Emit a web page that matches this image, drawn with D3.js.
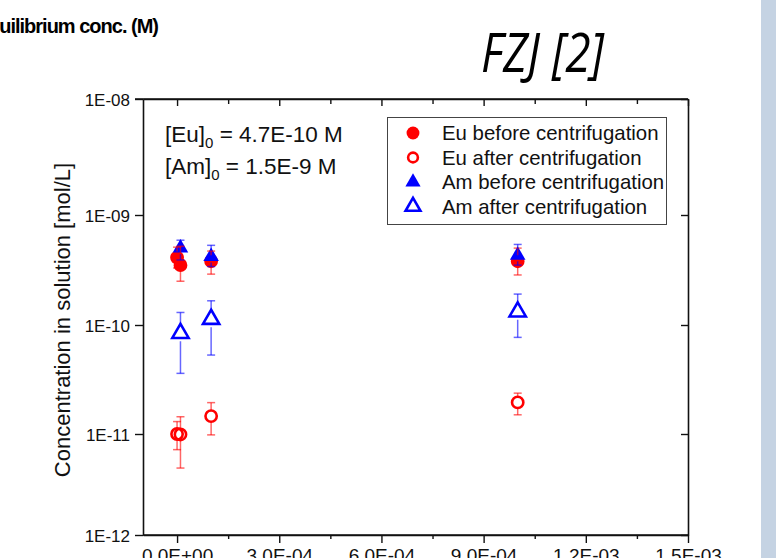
<!DOCTYPE html>
<html>
<head>
<meta charset="utf-8">
<script src="https://cdn.jsdelivr.net/npm/d3@7"></script>
<style>
  body { margin: 0; background: #fff; }
  svg { display: block; font-family: "Liberation Sans", Arial, sans-serif; }
</style>
</head>
<body>
<svg id="chart" width="776" height="558"></svg>
<script>
// Series values (x: time-like axis, y: mol/L)
const euBeforeX = [0, 1e-5, 1e-4, 1e-3];
const euBeforeY = [4.1e-10, 3.5e-10, 3.8e-10, 3.8e-10];
const euBeforeLo = [3.3e-10, 2.5e-10, 2.9e-10, 2.85e-10];
const euBeforeHi = [5.1e-10, 5.2e-10, 4.7e-10, 5.0e-10];

const euAfterX = [0, 1e-5, 1e-4, 1e-3];
const euAfterY = [1.0e-11, 9.9e-12, 1.46e-11, 1.95e-11];
const euAfterLo = [7e-12, 4.6e-12, 9.8e-12, 1.5e-11];
const euAfterHi = [1.3e-11, 1.44e-11, 1.94e-11, 2.37e-11];

const amBeforeX = [1e-5, 1e-4, 1e-3];
const amBeforeY = [5.0e-10, 4.2e-10, 4.3e-10];
const amBeforeLo = [3.9e-10, 3.4e-10, 3.5e-10];
const amBeforeHi = [5.9e-10, 5.3e-10, 5.4e-10];

const amAfterX = [1e-5, 1e-4, 1e-3];
const amAfterY = [8.4e-11, 1.13e-10, 1.32e-10];
const amAfterLo = [3.6e-11, 5.3e-11, 7.7e-11];
const amAfterHi = [1.30e-10, 1.66e-10, 1.91e-10];

// Tick labels
const xMajor = [0, 3e-4, 6e-4, 9e-4, 1.2e-3, 1.5e-3];
const xMinor = [1.5e-4, 4.5e-4, 7.5e-4, 1.05e-3, 1.35e-3];
const yTicks = [1e-12, 1e-11, 1e-10, 1e-9, 1e-8];
const legendLabels = ["Eu before centrifugation", "Eu after centrifugation",
                      "Am before centrifugation", "Am after centrifugation"];

const svg = d3.select("#chart");

// Plot frame
let plotLeft = 143, plotRight = 688, plotTop = 99, plotBottom = 535;

let x = d3.scaleLinear().domain([-1e-4, 1.5e-3]).range([plotLeft, plotRight]);
// decades in the picture are not quite evenly spaced, so map each one
let y = d3.scaleLog().domain(yTicks).range([535, 434, 325, 215, 99]);

function fmtX(v) {
    if (v === 0) return "0.0E+00";
    let e = Math.floor(Math.log10(v) + 1e-9);
    let m = v / Math.pow(10, e);
    return m.toFixed(1) + "E-" + String(-e).padStart(2, "0");
}
function fmtY(v) {
    let e = Math.round(Math.log10(v));
    return "1E-" + String(-e).padStart(2, "0");
}

// right side band of the slide
svg.append("rect").attr("x", 761).attr("y", 0).attr("width", 15).attr("height", 558)
    .attr("fill", "#c5d3e3");

// cut-off heading at top left
svg.append("text")
    .attr("x", 158).attr("y", 33)
    .attr("text-anchor", "end")
    .attr("font-size", 20).attr("font-weight", "bold")
    .attr("letter-spacing", -1)
    .text("Equilibrium conc. (M)");

// slide title
svg.append("text")
    .attr("x", 481).attr("y", 72)
    .attr("font-family", "'Open Sans', sans-serif")
    .attr("font-style", "italic").attr("font-weight", 400)
    .attr("font-size", 54)
    .attr("textLength", 123).attr("lengthAdjust", "spacingAndGlyphs")
    .text("FZJ [2]");

// Axes
let gLeft = svg.append("g").attr("transform", "translate(" + plotLeft + ",0)")
    .call(d3.axisLeft(y).tickValues(yTicks).tickFormat(fmtY).tickSize(8).tickSizeOuter(0));
let gRight = svg.append("g").attr("transform", "translate(" + plotRight + ",0)")
    .call(d3.axisLeft(y).tickValues(yTicks).tickFormat("").tickSize(7).tickSizeOuter(0));
let gBottom = svg.append("g").attr("transform", "translate(0," + plotBottom + ")")
    .call(d3.axisBottom(x).tickValues(xMajor).tickFormat(fmtX).tickSize(8).tickSizeOuter(0));
let gBottomMinor = svg.append("g").attr("transform", "translate(0," + plotBottom + ")")
    .call(d3.axisBottom(x).tickValues(xMinor).tickFormat("").tickSize(4).tickSizeOuter(0));
let gTop = svg.append("g").attr("transform", "translate(0," + plotTop + ")")
    .call(d3.axisBottom(x).tickValues(xMajor).tickFormat("").tickSize(7).tickSizeOuter(0));
let gTopMinor = svg.append("g").attr("transform", "translate(0," + plotTop + ")")
    .call(d3.axisBottom(x).tickValues(xMinor).tickFormat("").tickSize(5).tickSizeOuter(0));

[gLeft, gRight, gBottom, gBottomMinor, gTop, gTopMinor].forEach(function(g) {
    g.select(".domain").attr("stroke", "#111").attr("stroke-width", 1.6);
    g.selectAll(".tick line").attr("stroke", "#111").attr("stroke-width", 1.4);
    g.selectAll(".tick text").attr("fill", "#111")
        .attr("font-family", "'Liberation Sans', Arial, sans-serif")
        .attr("font-size", 17);
});
gLeft.selectAll(".tick text").attr("x", -13).attr("dy", "0.36em");
gBottom.selectAll(".tick text").attr("y", 14).attr("font-size", 19);
// extend top border out to the 1E-08 tick
gTop.select(".domain").attr("d", "M" + (plotLeft - 8) + ",0H" + plotRight);
gBottom.select(".domain").attr("d", "M" + plotLeft + ",0H" + plotRight);

// y axis title
svg.append("text")
    .attr("transform", "translate(70,320) rotate(-90)")
    .attr("text-anchor", "middle")
    .attr("font-size", 22)
    .attr("fill", "#111")
    .text("Concentration in solution [mol/L]");

// annotation
let ann = svg.append("g").attr("font-size", 22.5).attr("fill", "#111");
function addConc(yPos, name, value) {
    let t = ann.append("text").attr("x", 165).attr("y", yPos);
    t.append("tspan").text("[" + name + "]");
    t.append("tspan").attr("font-size", 15).attr("dy", 6).text("0");
    t.append("tspan").attr("dy", -6).text(" = " + value + " M");
}
addConc(142, "Eu", "4.7E-10");
addConc(174, "Am", "1.5E-9");

// Series definitions
let series = [
    {xs: euBeforeX, ys: euBeforeY, lo: euBeforeLo, hi: euBeforeHi, color: "#ff0000",
     shape: d3.symbolCircle, size: 150, filled: true, gap: 6},
    {xs: euAfterX, ys: euAfterY, lo: euAfterLo, hi: euAfterHi, color: "#ff0000",
     shape: d3.symbolCircle, size: 100, filled: false, gap: 6},
    {xs: amBeforeX, ys: amBeforeY, lo: amBeforeLo, hi: amBeforeHi, color: "#0000ff",
     shape: d3.symbolTriangle, size: 105, filled: true, gap: 6},
    {xs: amAfterX, ys: amAfterY, lo: amAfterLo, hi: amAfterHi, color: "#0000ff",
     shape: d3.symbolTriangle, size: 115, filled: false, gap: 8}
];

function drawMarker(g, s, cx, cy, size) {
    let p = g.append("path")
        .attr("d", d3.symbol().type(s.shape).size(size)())
        .attr("transform", "translate(" + cx + "," + cy + ")");
    if (s.filled) {
        p.attr("fill", s.color);
    } else {
        p.attr("fill", "none").attr("stroke", s.color).attr("stroke-width", 2.6);
    }
}

let markers = svg.append("g");
series.forEach(function(s) {
    s.xs.forEach(function(v, i) {
        drawMarker(markers, s, x(v), y(s.ys[i]), s.size);
    });
});

// error bars, drawn over the markers
let errs = svg.append("g");
series.forEach(function(s) {
    s.xs.forEach(function(v, i) {
        let cx = x(v), cy = y(s.ys[i]);
        let yh = y(s.hi[i]), yl = y(s.lo[i]);
        let g = errs.append("g").attr("stroke", s.color).attr("stroke-opacity", 0.6)
            .attr("stroke-width", 1.5);
        if (cy - s.gap > yh) g.append("line").attr("x1", cx).attr("x2", cx).attr("y1", cy - s.gap).attr("y2", yh);
        if (cy + s.gap < yl) g.append("line").attr("x1", cx).attr("x2", cx).attr("y1", cy + s.gap).attr("y2", yl);
        g.append("line").attr("x1", cx - 4).attr("x2", cx + 4).attr("y1", yh).attr("y2", yh);
        g.append("line").attr("x1", cx - 4).attr("x2", cx + 4).attr("y1", yl).attr("y2", yl);
    });
});

// Legend
let legend = svg.append("g");
legend.append("rect").attr("x", 387.5).attr("y", 117.5).attr("width", 279).attr("height", 107)
    .attr("fill", "#fff").attr("stroke", "#444").attr("stroke-width", 1);
let legendSizes = [130, 75, 100, 95];
legendLabels.forEach(function(label, i) {
    let cy = 133 + i * 24.5;
    drawMarker(legend, series[i], 413, cy, legendSizes[i]);
    legend.append("text").attr("x", 442).attr("y", cy + 7)
        .attr("font-size", 20.4).attr("fill", "#111").text(label);
});
</script>
</body>
</html>
